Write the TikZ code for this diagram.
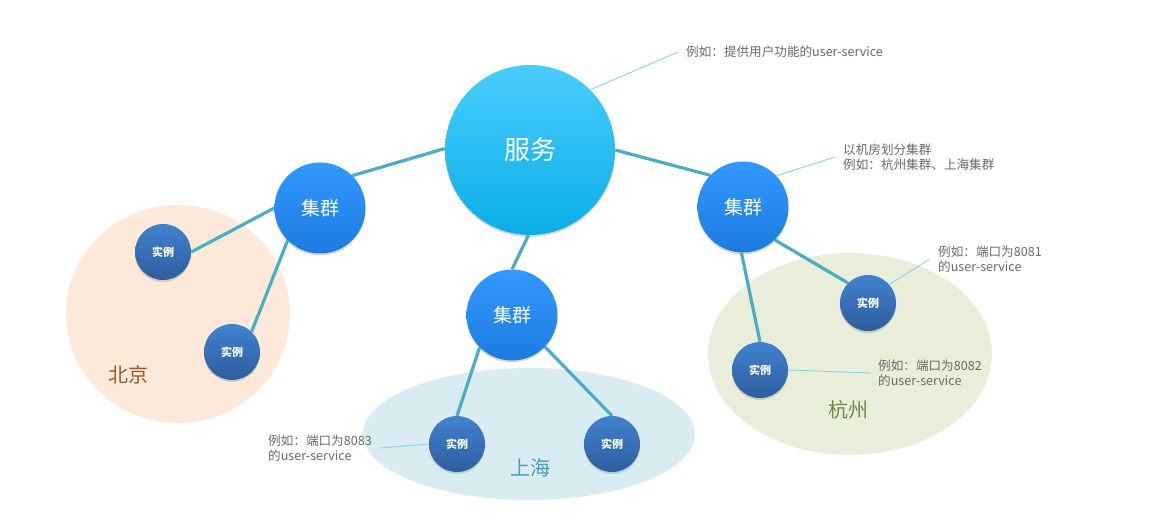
\documentclass[tikz,border=0pt]{standalone}
\usepackage{fontspec}
\setmainfont{Noto Sans CJK SC}
\usetikzlibrary{shadows}
\definecolor{bjfill}{HTML}{FCE9DA}
\definecolor{bjtext}{HTML}{A0582A}
\definecolor{hzfill}{HTML}{E8EED9}
\definecolor{hztext}{HTML}{6C8A45}
\definecolor{shfill}{HTML}{D9ECF2}
\definecolor{shtext}{HTML}{4A9DB5}
\definecolor{svctop}{HTML}{4ACDFD}
\definecolor{svcbot}{HTML}{0AAEE8}
\definecolor{cltop}{HTML}{3399FF}
\definecolor{clbot}{HTML}{1C7BE0}
\definecolor{intop}{HTML}{4182CE}
\definecolor{inbot}{HTML}{2E5E9E}
\definecolor{linkc}{HTML}{4AADC2}
\definecolor{annoc}{HTML}{8FD0E2}
\definecolor{annotext}{HTML}{6A6A6A}
\begin{document}
\begin{tikzpicture}[x=1pt,y=-1pt,
  ball/.style={circle, inner sep=0pt, text=white,
    drop shadow={opacity=0.3, shadow xshift=0pt, shadow yshift=-2pt}},
  svcball/.style={ball, minimum size=170pt, top color=svctop, bottom color=svcbot,
    font=\fontsize{26}{30}\selectfont},
  clball/.style={ball, minimum size=91pt, top color=cltop, bottom color=clbot,
    font=\fontsize{19}{22}\selectfont},
  inball/.style={ball, minimum size=56pt, top color=intop, bottom color=inbot,
    font=\bfseries\fontsize{11}{13}\selectfont},
  link/.style={draw=linkc, line width=3.2pt},
  annoline/.style={draw=annoc, line width=0.9pt},
  anno/.style={text=annotext, font=\fontsize{12.6}{15.5}\selectfont, align=left,
    inner xsep=8pt, inner ysep=0pt},
  region/.style={font=\fontsize{20}{24}\selectfont, inner sep=0pt}]
\useasboundingbox[fill=white] (0,0) rectangle (1151,522);

% regions
\fill[bjfill] (178,314) ellipse [x radius=112, y radius=109];
\fill[hzfill] (850,354) ellipse [x radius=142, y radius=101];
\fill[shfill] (529,434) ellipse [x radius=166, y radius=66];
\node[region, text=bjtext] (bj) at (128,375) {北京};
\node[region, text=hztext] (hz) at (848,410) {杭州};
\node[region, text=shtext] (sh) at (530,468) {上海};

% nodes
\node[svcball] (svc) at (530,150) {服务};
\node[clball] (lc) at (320,208) {集群};
\node[clball] (rc) at (743,207) {集群};
\node[clball] (mc) at (512,315) {集群};
\node[inball] (bj1) at (163,252) {实例};
\node[inball] (bj2) at (232,352) {实例};
\node[inball] (hz1) at (868,303) {实例};
\node[inball] (hz2) at (760,370) {实例};
\node[inball] (sh1) at (457,444) {实例};
\node[inball] (sh2) at (612,444) {实例};

% connectors
\draw[link] (lc.45) -- (svc.179);
\draw[link] (svc.0) -- (rc.136);
\draw[link] (svc.269) -- (mc.90);
\draw[link] (lc.180) -- (bj1.0);
\draw[link] (lc.225) -- (bj2.46);
\draw[link] (rc.314) -- (hz1.135);
\draw[link] (rc.268) -- (hz2.90);
\draw[link] (mc.225) -- (sh1.90);
\draw[link] (mc.316) -- (sh2.90);

% annotations
\node[anno, anchor=west] (a1) at (678,52) {例如：提供用户功能的user-service};
\node[anno, anchor=west] (a2) at (835,157) {以机房划分集群\\例如：杭州集群、上海集群};
\node[anno, anchor=west] (a3) at (930,259) {例如：端口为8081\\的user-service};
\node[anno, anchor=west] (a4) at (870,373) {例如：端口为8082\\的user-service};
\node[anno, anchor=east] (a5) at (380,448) {例如：端口为8083\\的user-service};
\draw[annoline] (svc.45) -- (a1.west);
\draw[annoline] (rc.43) -- (a2.west);
\draw[annoline] (hz1.41) -- (a3.west);
\draw[annoline] (hz2.0) -- (a4.west);
\draw[annoline] (sh1.180) -- (a5.east);
\end{tikzpicture}
\end{document}
